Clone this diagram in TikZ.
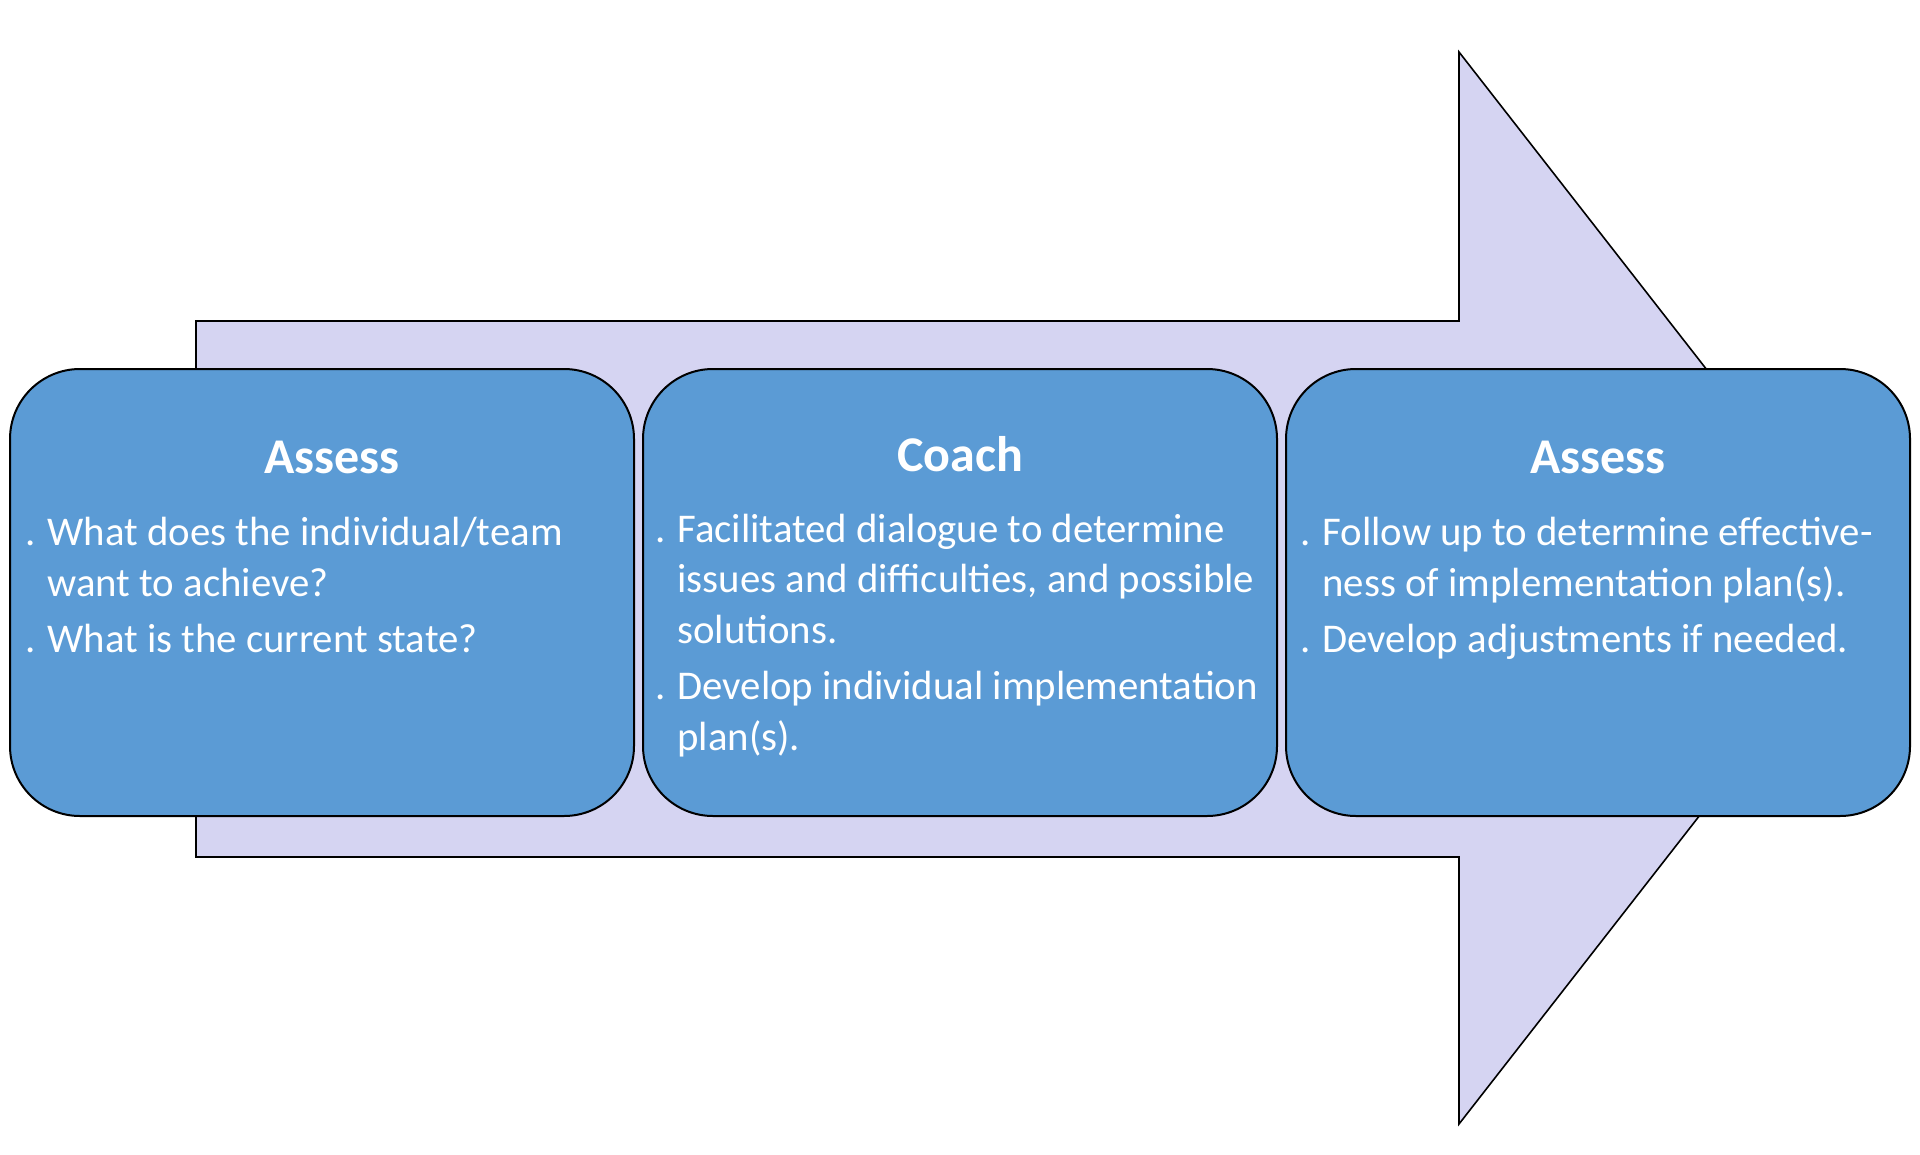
\documentclass[tikz,border=0pt]{standalone}
\usepackage{fontspec}
\setmainfont{Carlito}
\usetikzlibrary{positioning}
\definecolor{boxblue}{HTML}{5B9BD5}
\definecolor{arrowlilac}{HTML}{D5D4F2}
\newcommand{\dotitem}{\makebox[11pt][l]{.}}
\newcommand{\dotgap}{\hspace*{11pt}}

\begin{document}
\begin{tikzpicture}[x=0.5pt, y=-0.5pt,
		stagebox/.style = {shape=rectangle, rounded corners=35pt, draw, line width=1pt,
	fill=boxblue, minimum width=312pt, minimum height=223.5pt, inner sep=0pt},
		stagetitle/.style = {anchor=base, inner sep=0pt, text=white, font=\fontsize{25}{30}\selectfont\bfseries},
		stagetext/.style = {anchor=base west, inner sep=0pt, align=left, text=white, font=\fontsize{20.4}{25.2}\selectfont}]
			\useasboundingbox (0,0) rectangle (1920,1155);
			\draw[fill=arrowlilac, line width=0.8pt] (196,321) -- (1459,321) -- (1459,52) -- (1877,588)
			-- (1459,1124) -- (1459,857) -- (196,857) -- cycle;
			\node[stagebox] (assessA) at (322,592.5) {};
			\node[stagebox, minimum width=317pt, right=3.5pt of assessA] (coach) {};
			\node[stagebox, right=3.5pt of coach] (assessB) {};
			\node[stagetitle] (titleA) at ([xshift=5pt, yshift=-52.5pt]assessA.north) {Assess};
			\node[stagetitle] (titleC) at ([yshift=-51.5pt]coach.north) {Coach};
			\node[stagetitle] (titleB) at ([yshift=-52.5pt]assessB.north) {Assess};
			\node[stagetext] (textA) at ([xshift=8pt, yshift=-142.2pt]assessA.north west) {\dotitem What does the individual/team\\ \dotgap want to achieve?\\[3pt] \dotitem What is the current state?};
			\node[stagetext] (textC) at ([xshift=6.5pt, yshift=-191pt]coach.north west) {\dotitem Facilitated dialogue to determine\\ \dotgap issues and difficulties, and possible\\ \dotgap solutions.\\[3pt] \dotitem Develop individual implementation\\ \dotgap plan(s).};
			\node[stagetext] (textB) at ([xshift=7.5pt, yshift=-142.2pt]assessB.north west) {\dotitem Follow up to determine effective-\\ \dotgap ness of implementation plan(s).\\[3pt] \dotitem Develop adjustments if needed.};
		\end{tikzpicture}
\end{document}
